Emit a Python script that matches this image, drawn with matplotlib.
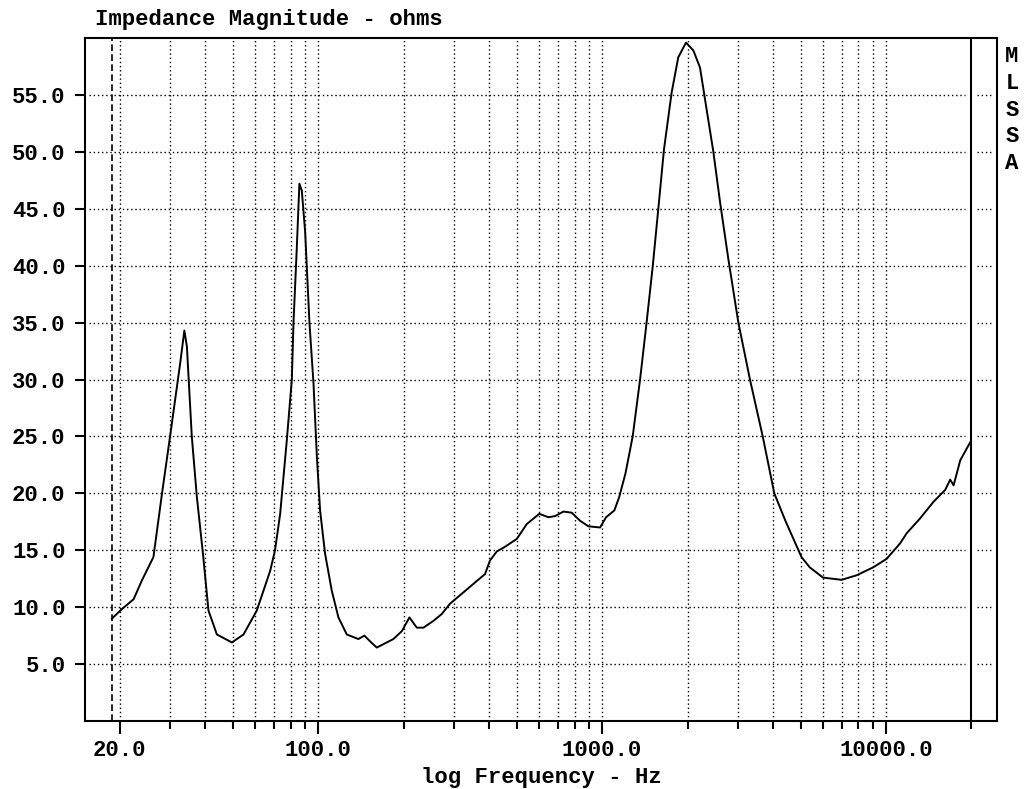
import matplotlib
matplotlib.use("Agg")
import matplotlib.pyplot as plt
from matplotlib.ticker import FixedLocator, NullFormatter

# impedance curve
freq_hz = [
    18.8, 20.3, 22.4, 23.9, 26.3, 28.2, 30.1, 32.7, 33.8, 34.5,
    35.9, 37.4, 39.3, 41.1, 44.0, 49.7, 54.6, 60.8, 67.8, 70.5,
    73.5, 77.6, 80.8, 81.9, 84.1, 85.9, 87.6, 90.0, 93.2, 96.3,
    99.0, 101.6, 105.8, 111.7, 117.9, 126.2, 138.6, 145.5, 152.4, 160.9,
    169.8, 184.1, 197.3, 209.7, 222.6, 234.9, 254.8, 272.6, 291.3, 324.9,
    362, 387, 403, 426, 455, 501, 543, 601, 647, 683,
    731, 782, 836, 895, 984, 1033, 1105, 1150, 1209, 1282,
    1361, 1435, 1509, 1578, 1652, 1758, 1855, 1976, 2097,
    2213, 2322, 2466, 2603, 2784, 3020, 3318, 3680, 4042,
    4421, 5040, 5387, 5998, 6973, 7880, 9016, 10057, 11207, 11832,
    13188, 14690, 16163, 16830, 17300, 18260, 19815,
]
impedance_ohm = [
    9.0, 9.8, 10.7, 12.3, 14.4, 20.0, 25.0, 31.5, 34.3, 32.9,
    25.0, 19.7, 14.7, 9.7, 7.6, 6.9, 7.6, 9.7, 13.2, 15.0,
    18.2, 24.7, 30.0, 35.0, 41.5, 47.2, 46.6, 43.0, 35.0, 29.7,
    23.2, 18.5, 14.7, 11.45, 9.1, 7.6, 7.2, 7.5, 7.0, 6.45,
    6.75, 7.2, 7.9, 9.1, 8.2, 8.2, 8.8, 9.4, 10.3, 11.3,
    12.3, 12.9, 14.1, 14.9, 15.3, 16.0, 17.3, 18.2, 17.9, 18.0,
    18.4, 18.3, 17.6, 17.1, 17.0, 17.9, 18.5, 19.7, 21.75, 25.0,
    30.0, 35.0, 40.0, 45.0, 50.2, 55.2, 58.3, 59.6, 58.9,
    57.4, 54.1, 50.0, 45.6, 40.6, 35.0, 30.0, 25.0, 20.0,
    17.6, 14.4, 13.5, 12.6, 12.4, 12.8, 13.5, 14.25, 15.6, 16.5,
    17.8, 19.25, 20.3, 21.2, 20.7, 22.9, 24.5,
]

x_major = [20, 100, 1000, 10000]
x_major_labels = ["20.0", "100.0", "1000.0", "10000.0"]
x_minor = [30, 40, 50, 60, 70, 80, 90,
           200, 300, 400, 500, 600, 700, 800, 900,
           2000, 3000, 4000, 5000, 6000, 7000, 8000, 9000, 20000]
x_grid = [20, 30, 40, 50, 60, 70, 80, 90,
          100, 200, 300, 400, 500, 600, 700, 800, 900,
          1000, 2000, 3000, 4000, 5000, 6000, 7000, 8000, 9000, 10000]
y_ticks = [5, 10, 15, 20, 25, 30, 35, 40, 45, 50, 55]
y_tick_labels = ["5.0", "10.0", "15.0", "20.0", "25.0", "30.0",
                 "35.0", "40.0", "45.0", "50.0", "55.0"]

start_marker_hz = 18.8
stop_marker_hz = 20000

FONT = {"family": "Liberation Mono", "weight": "bold", "size": 16}
DOTS = (0, (1, 2))

fig = plt.figure(figsize=(10.28, 7.89), dpi=100)
ax = fig.add_axes([85 / 1028, 1 - 721 / 789, 912 / 1028, 683 / 789])

ax.set_xscale("log")
ax.set_xlim(15.1, 24600)
ax.set_ylim(0, 60)

for f in x_grid:
    ax.axvline(f, color="black", lw=1, ls=DOTS, zorder=1)
for z in y_ticks:
    ax.hlines(z, 15.6, 19000, color="black", lw=1, ls=DOTS, zorder=1)
    ax.hlines(z, 21000, 23500, color="black", lw=1, ls=DOTS, zorder=1)

ax.axvline(start_marker_hz, color="black", lw=1.2, ls=(0, (4, 2)), zorder=2)
ax.axvline(stop_marker_hz, color="black", lw=1.5, zorder=2)

ax.plot(freq_hz, impedance_ohm, color="black", lw=1.4, zorder=3)

ax.xaxis.set_major_locator(FixedLocator(x_major))
ax.set_xticklabels(x_major_labels, fontdict=FONT)
ax.xaxis.set_minor_locator(FixedLocator(x_minor))
ax.xaxis.set_minor_formatter(NullFormatter())
ax.set_yticks(y_ticks)
ax.set_yticklabels(y_tick_labels, fontdict=FONT)
ax.yaxis.set_minor_locator(FixedLocator([]))

ax.tick_params(axis="x", which="major", direction="out", length=9, width=1.5, pad=5)
ax.tick_params(axis="x", which="minor", direction="out", length=6, width=1.5)
ax.tick_params(axis="y", which="major", direction="out", length=7, width=1.5, pad=7)

for s in ax.spines.values():
    s.set_linewidth(1.5)

ax.set_xlabel("log Frequency - Hz", fontdict=FONT, labelpad=4)
fig.text(95 / 1028, 1 - 20 / 789, "Impedance Magnitude - ohms",
         ha="left", va="center", **FONT)
fig.text(1012 / 1028, 1 - 110 / 789, "M\nL\nS\nS\nA",
         ha="center", va="center", linespacing=1.35, **FONT)

fig.savefig("out.png", dpi=100, facecolor="white")
